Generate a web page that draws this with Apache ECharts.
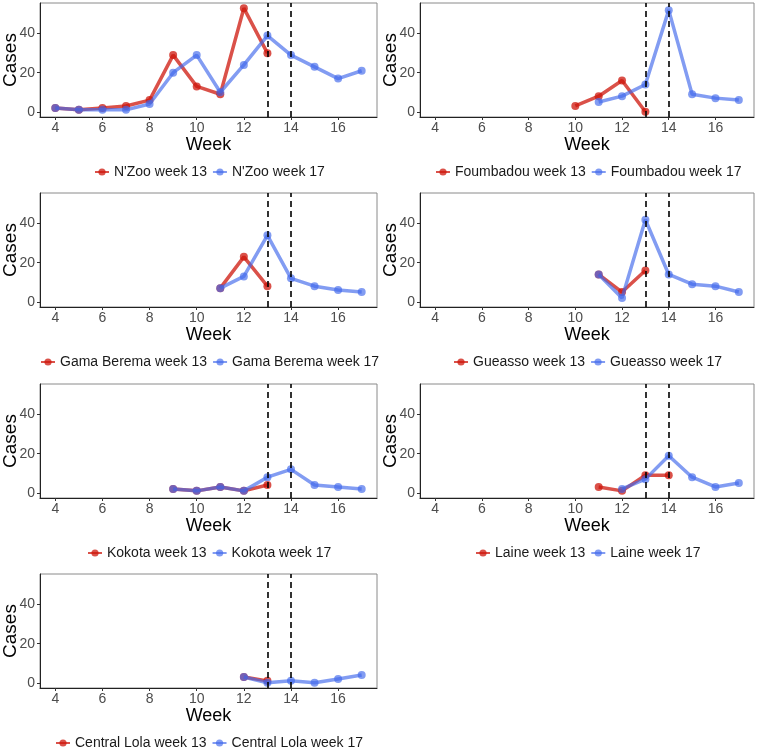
<!DOCTYPE html>
<html><head><meta charset="utf-8">
<script src="https://cdn.jsdelivr.net/npm/echarts@6/dist/echarts.min.js"></script>
<style>html,body{margin:0;padding:0;background:#fff}#c{width:757px;height:750px}</style>
</head><body><div id="c"></div>
<script>
// ---- data ----
const districts = ["N'Zoo", "Foumbadou", "Gama Berema", "Gueasso", "Kokota", "Laine", "Central Lola"];
const weeksW13 = [[4,5,6,7,8,9,10,11,12,13],[10,11,12,13],[11,12,13],[11,12,13],[9,10,11,12,13],[11,12,13,14],[12,13]];
const casesW13 = [[2,1,2,3,6,29,13,9,53,30],[3,8,16,0],[7,23,8],[14,5,16],[2,1,3,1,4],[3,1,9,9],[3,1]];
const weeksW17 = [[4,5,6,7,8,9,10,11,12,13,14,15,16,17],[11,12,13,14,15,16,17],[11,12,13,14,15,16,17],[11,12,13,14,15,16,17],[9,10,11,12,13,14,15,16,17],[12,13,14,15,16,17],[12,13,14,15,16,17]];
const casesW17 = [[2,1,1,1,4,20,29,10,24,39,29,23,17,21],[5,8,14,52,9,7,6],[7,13,34,12,8,6,5],[14,2,42,14,9,8,5],[2,1,3,1,8,12,4,3,2],[2,7,19,8,3,5],[3,0,1,0,2,4]];
const xTicks = [4,6,8,10,12,14,16];
const yTicks = [0,20,40];
const refWeeks = [13,14];
const seriesSuffix = [" week 13", " week 17"];

// ---- layout ----
const FONT = '"Liberation Sans", Arial, Helvetica, sans-serif';
const colLeft = [40, 420], colWidth = [337, 334];
const rowTop = [3, 193, 384, 574], gridH = 114;
const RED = 'rgba(205,20,10,0.74)', BLUE = 'rgba(65,105,235,0.66)';
const legItemW = 14, legGap = 5, legFont = 14;

const cv = document.createElement('canvas').getContext('2d');
cv.font = legFont + 'px ' + FONT;
function tw(s){ return cv.measureText(s).width; }

const grid = [], xAxis = [], yAxis = [], series = [], legend = [];
districts.forEach((d, i) => {
  const col = i % 2, row = Math.floor(i / 2);
  grid.push({left: colLeft[col], top: rowTop[row], width: colWidth[col], height: gridH,
    outerBoundsMode: 'none', containLabel: false,
    show: true, borderColor: '#8a8a8a', borderWidth: 1, backgroundColor: '#fff'});
  xAxis.push({type: 'value', gridIndex: i, min: 3.35, max: 17.65,
    name: 'Week', nameLocation: 'middle', nameGap: 17,
    nameTextStyle: {fontFamily: FONT, fontSize: 18, color: '#000'},
    axisLine: {show: true, onZero: false, lineStyle: {color: '#222', width: 1}},
    axisTick: {show: true, customValues: xTicks, length: 3, lineStyle: {color: '#333'}},
    axisLabel: {customValues: xTicks, margin: 4, fontFamily: FONT, fontSize: 14, color: '#4d4d4d'},
    splitLine: {show: false}});
  yAxis.push({type: 'value', gridIndex: i, min: -2.65, max: 55.65,
    name: 'Cases', nameLocation: 'middle', nameGap: 20, nameMoveOverlap: false,
    nameTextStyle: {fontFamily: FONT, fontSize: 19, color: '#000'},
    axisLine: {show: true, onZero: false, lineStyle: {color: '#222', width: 1}},
    axisTick: {show: true, customValues: yTicks, length: 3, lineStyle: {color: '#333'}},
    axisLabel: {customValues: yTicks, margin: 5, fontFamily: FONT, fontSize: 14, color: '#4d4d4d'},
    splitLine: {show: false}});
  const n13 = d + seriesSuffix[0], n17 = d + seriesSuffix[1];
  series.push({name: n13, type: 'line', xAxisIndex: i, yAxisIndex: i,
    data: weeksW13[i].map((w, k) => [w, casesW13[i][k]]),
    symbol: 'circle', symbolSize: 8, showSymbol: true,
    lineStyle: {color: RED, width: 3.5}, itemStyle: {color: RED}, emphasis: {disabled: true}, z: 2});
  series.push({name: n17, type: 'line', xAxisIndex: i, yAxisIndex: i,
    data: weeksW17[i].map((w, k) => [w, casesW17[i][k]]),
    symbol: 'circle', symbolSize: 8, showSymbol: true,
    lineStyle: {color: BLUE, width: 3.5}, itemStyle: {color: BLUE}, emphasis: {disabled: true}, z: 3,
    markLine: {silent: true, symbol: ['none', 'none'], label: {show: false},
      lineStyle: {color: '#000', type: [6, 4], width: 1.6},
      data: refWeeks.map(w => ({xAxis: w}))}});
  const total = [n13, n17].reduce((s, t) => s + legItemW + 5 + tw(t), 0) + legGap;
  const center = colLeft[col] + colWidth[col] / 2;
  legend.push({data: [n13, n17], left: Math.round(center - total / 2), top: rowTop[row] + gridH + 48,
    orient: 'horizontal', itemWidth: legItemW, itemHeight: 9, itemGap: legGap, padding: 0,
    selectedMode: false, textStyle: {fontFamily: FONT, fontSize: legFont, color: '#1a1a1a'}});
});

const chart = echarts.init(document.getElementById('c'), null, {renderer: 'canvas'});
chart.setOption({animation: false, backgroundColor: '#fff', grid, xAxis, yAxis, series, legend});
</script></body></html>
